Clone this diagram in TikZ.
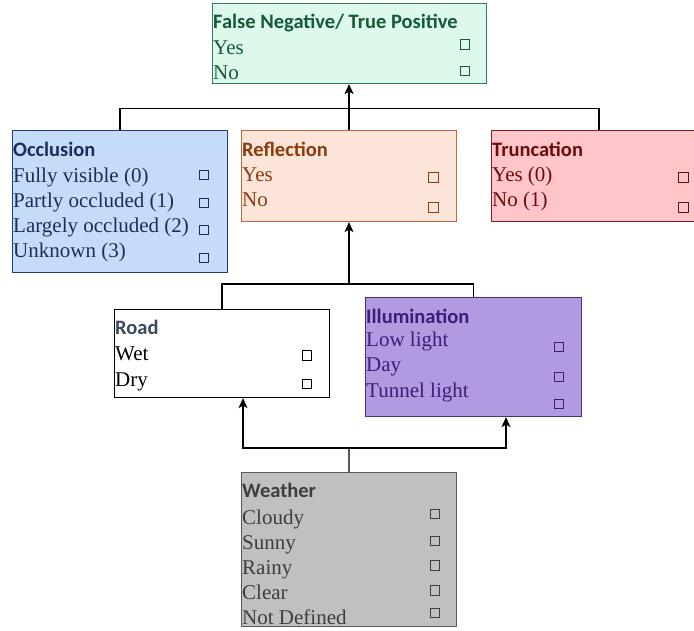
\documentclass[tikz,border=0pt]{standalone}
\usepackage{fontspec}
\setmainfont{Liberation Serif}
\newfontfamily\headfont{Carlito}
\usetikzlibrary{arrows.meta}

% panel palettes: fill / border / text
\definecolor{fnFill}{HTML}{DDF9EC}
\definecolor{fnLine}{HTML}{2F7D5A}
\definecolor{fnText}{HTML}{145A36}
\definecolor{ocFill}{HTML}{C5DCF8}
\definecolor{ocLine}{HTML}{1F3E7C}
\definecolor{ocText}{HTML}{1A2D5E}
\definecolor{rfFill}{HTML}{FDE4D8}
\definecolor{rfLine}{HTML}{B66A3E}
\definecolor{rfText}{HTML}{8A3C10}
\definecolor{trFill}{HTML}{FFC5C8}
\definecolor{trLine}{HTML}{8E1B1B}
\definecolor{trText}{HTML}{6E0B0B}
\definecolor{rdText}{HTML}{3C4A5E}
\definecolor{ilFill}{HTML}{B09AE2}
\definecolor{ilLine}{HTML}{4A2E8E}
\definecolor{ilText}{HTML}{3A1E78}
\definecolor{wtFill}{HTML}{C0C0C0}
\definecolor{wtLine}{HTML}{595959}
\definecolor{wtText}{HTML}{3E3E3E}

\begin{document}
\begin{tikzpicture}[x=1pt, y=-1pt,
  panel/.style={draw, line width=1.1pt, anchor=north west, inner sep=0pt},
  boxtitle/.style={anchor=base west, inner sep=0pt,
    font=\headfont\bfseries\fontsize{20.5}{24}\selectfont},
  boxitem/.style={anchor=base west, inner sep=0pt,
    font=\fontsize{21}{25}\selectfont},
  chkbox/.style={draw, line width=0.9pt, minimum size=9.5pt, inner sep=0pt},
  link/.style={draw=black, line width=1.3pt},
  tiplink/.style={link, -{Stealth[length=10pt,width=9pt,inset=2.5pt]}}]

\useasboundingbox (0,0) rectangle (694,630);
\clip (0,0) rectangle (694,630);

% ---------- False Negative / True Positive ----------
\node[panel, fill=fnFill, draw=fnLine, minimum width=274pt, minimum height=80pt] (fn) at (212,3) {};
\node[boxtitle, text=fnText] (fnT) at (213,28.3) {False Negative/ True Positive};
\node[boxitem, text=fnText] (fnA) at (213,54) {Yes};
\node[boxitem, text=fnText] (fnB) at (213,79.3) {No};
\node[chkbox, draw=fnText] (fnCa) at (464.7,44.3) {};
\node[chkbox, draw=fnText] (fnCb) at (464.7,71) {};

% ---------- Occlusion ----------
\node[panel, fill=ocFill, draw=ocLine, minimum width=215pt, minimum height=142pt] (oc) at (12,130) {};
\node[boxtitle, text=ocText] (ocT) at (13,156) {Occlusion};
\node[boxitem, text=ocText] (ocA) at (13,182) {Fully visible (0)};
\node[boxitem, text=ocText] (ocB) at (13,207) {Partly occluded (1)};
\node[boxitem, text=ocText] (ocC) at (13,232.5) {Largely occluded (2)};
\node[boxitem, text=ocText] (ocD) at (13,257) {Unknown (3)};
\node[chkbox, draw=ocText] (ocCa) at (204,175) {};
\node[chkbox, draw=ocText] (ocCb) at (204,202.7) {};
\node[chkbox, draw=ocText] (ocCc) at (204,230) {};
\node[chkbox, draw=ocText] (ocCd) at (204,257.7) {};

% ---------- Reflection ----------
\node[panel, fill=rfFill, draw=rfLine, minimum width=215pt, minimum height=91pt] (rf) at (241,130) {};
\node[boxtitle, text=rfText] (rfT) at (242,156) {Reflection};
\node[boxitem, text=rfText] (rfA) at (242,181.5) {Yes};
\node[boxitem, text=rfText] (rfB) at (242,206) {No};
\node[chkbox, draw=rfText] (rfCa) at (433.5,177.3) {};
\node[chkbox, draw=rfText] (rfCb) at (433.5,207.3) {};

% ---------- Truncation ----------
\node[panel, fill=trFill, draw=trLine, minimum width=215pt, minimum height=91pt] (tr) at (491,130) {};
\node[boxtitle, text=trText] (trT) at (492,156) {Truncation};
\node[boxitem, text=trText] (trA) at (492,181.5) {Yes (0)};
\node[boxitem, text=trText] (trB) at (492,206) {No (1)};
\node[chkbox, draw=trText] (trCa) at (683.5,177.3) {};
\node[chkbox, draw=trText] (trCb) at (683.5,207.3) {};

% ---------- Road ----------
\node[panel, fill=white, draw=black, minimum width=215pt, minimum height=88pt] (rd) at (114,309) {};
\node[boxtitle, text=rdText] (rdT) at (115,334.3) {Road};
\node[boxitem, text=black] (rdA) at (115,360) {Wet};
\node[boxitem, text=black] (rdB) at (115,386) {Dry};
\node[chkbox, draw=black] (rdCa) at (307,355.3) {};
\node[chkbox, draw=black] (rdCb) at (307,384) {};

% ---------- Illumination ----------
\node[panel, fill=ilFill, draw=ilLine, minimum width=216pt, minimum height=119pt] (il) at (365,297) {};
\node[boxtitle, text=ilText] (ilT) at (366,323.3) {Illumination};
\node[boxitem, text=ilText] (ilA) at (366,346.7) {Low light};
\node[boxitem, text=ilText] (ilB) at (366,371.7) {Day};
\node[boxitem, text=ilText] (ilC) at (366,397.3) {Tunnel light};
\node[chkbox, draw=ilText] (ilCa) at (559,346.7) {};
\node[chkbox, draw=ilText] (ilCb) at (559,376.7) {};
\node[chkbox, draw=ilText] (ilCc) at (559,404) {};

% ---------- Weather ----------
\node[panel, fill=wtFill, draw=wtLine, minimum width=215pt, minimum height=154pt] (wt) at (241,472) {};
\node[boxtitle, text=wtText] (wtT) at (242,497.3) {Weather};
\node[boxitem, text=wtText] (wtA) at (242,524) {Cloudy};
\node[boxitem, text=wtText] (wtB) at (242,549) {Sunny};
\node[boxitem, text=wtText] (wtC) at (242,574) {Rainy};
\node[boxitem, text=wtText] (wtD) at (242,599.3) {Clear};
\node[boxitem, text=wtText] (wtE) at (242,624) {Not Defined};
\node[chkbox, draw=wtText] (wtCa) at (434.7,514) {};
\node[chkbox, draw=wtText] (wtCb) at (434.7,540.7) {};
\node[chkbox, draw=wtText] (wtCc) at (434.7,565.3) {};
\node[chkbox, draw=wtText] (wtCd) at (434.7,590.3) {};
\node[chkbox, draw=wtText] (wtCe) at (434.7,612.7) {};

% ---------- connectors ----------
\coordinate (busTop) at (349,108.7);
\coordinate (busMid) at (349,284);
\coordinate (busLow) at (349,448);
\coordinate (toRoad) at (243,448);
\coordinate (toIllum) at (506,448);

\draw[link] (oc.north) |- (busTop) -| (tr.north);
\draw[tiplink] (rf.north) -- (rf.north |- fn.south);

\draw[link] (rd.north) |- (busMid) -| (il.north);
\draw[tiplink] (busMid) -- (busMid |- rf.south);

\draw[link] (wt.north) -- (busLow);
\draw[tiplink] (busLow) -- (toRoad) -- (toRoad |- rd.south);
\draw[tiplink] (busLow) -- (toIllum) -- (toIllum |- il.south);

\end{tikzpicture}
\end{document}
